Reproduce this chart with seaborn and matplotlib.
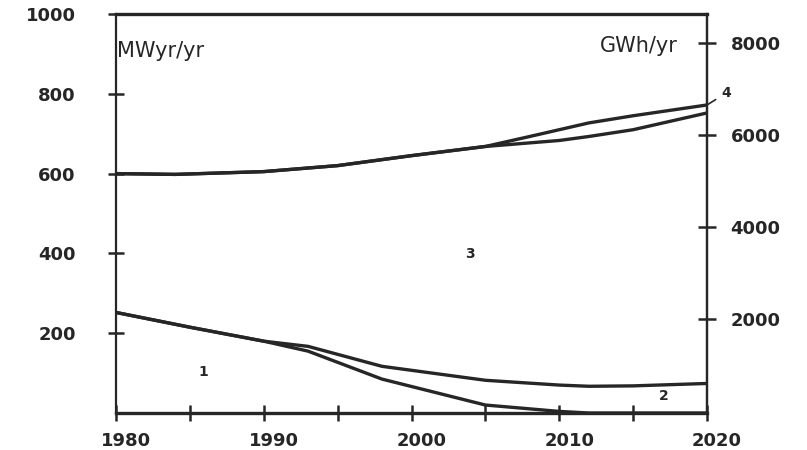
import matplotlib
matplotlib.use("Agg")
import matplotlib.pyplot as plt
from matplotlib.transforms import ScaledTranslation
import seaborn as sns

# ---- data ----
years_low = [1980, 1985, 1990, 1993, 1998, 2005, 2010, 2012, 2015, 2020]
top_of_1 = [252, 215, 180, 155, 85, 20, 4, 0, 0, 0]
top_of_2 = [252, 215, 180, 167, 117, 82, 70, 67, 68, 74]

years_high = [1980, 1984, 1990, 1995, 2000, 2005, 2008, 2010, 2012, 2015, 2020]
top_of_3 = [600, 598, 605, 620, 645, 668, 677, 683, 693, 710, 752]
top_of_4 = [600, 598, 605, 620, 645, 668, 693, 710, 727, 745, 772]

x_major = [1980, 1990, 2000, 2010, 2020]
x_minor = [1985, 1995, 2005, 2015]
y_left = [200, 400, 600, 800, 1000]
y_right = [2000, 4000, 6000, 8000]

sns.set_style("white")
plt.rcParams['font.family'] = ['DejaVu Sans']

ink = '#262626'
fig = plt.figure(figsize=(8.07, 4.5), dpi=100)
ax = fig.add_axes([116 / 807, 37 / 450, 591 / 807, 399 / 450])

for xs, ys in [(years_low, top_of_1), (years_low, top_of_2),
               (years_high, top_of_3), (years_high, top_of_4)]:
    sns.lineplot(x=xs, y=ys, ax=ax, color=ink, linewidth=2.4)

ax.set_xlim(1980, 2020)
ax.set_ylim(0, 1000)
ax.set_xlabel('')
ax.set_ylabel('')

ax.set_xticks(x_major)
ax.set_xticklabels([str(v) for v in x_major])
ax.set_xticks(x_minor, minor=True)
ax.set_yticks(y_left)
ax.set_yticklabels([str(v) for v in y_left])

ax.tick_params(axis='y', left=True, direction='inout', length=12, width=1.8, pad=23,
               colors=ink, labelsize=13)
ax.tick_params(axis='x', which='both', bottom=True, direction='inout', length=11,
               width=1.8, pad=8, colors=ink, labelsize=13)
for lbl in ax.get_yticklabels() + ax.get_xticklabels():
    lbl.set_fontweight('bold')
for lbl in ax.get_xticklabels():
    lbl.set_transform(lbl.get_transform() + ScaledTranslation(0.10, 0, fig.dpi_scale_trans))

for side, lw in [('top', 2.4), ('bottom', 2.4), ('left', 1.6), ('right', 1.6)]:
    ax.spines[side].set_visible(True)
    ax.spines[side].set_color(ink)
    ax.spines[side].set_linewidth(lw)

ax2 = ax.twinx()
ax2.set_ylim(-60, 8640)
ax2.set_yticks(y_right)
ax2.set_yticklabels([str(v) for v in y_right])
ax2.tick_params(axis='y', right=True, direction='inout', length=13, width=1.8, pad=10.5,
                colors=ink, labelsize=13)
for lbl in ax2.get_yticklabels():
    lbl.set_fontweight('bold')
for side in ['top', 'bottom', 'left']:
    ax2.spines[side].set_visible(False)
ax2.spines['right'].set_color(ink)
ax2.spines['right'].set_linewidth(1.6)

ax.text(1980.1, 907, 'MWyr/yr', ha='left', va='center', fontsize=15, color=ink)
ax.text(2018.0, 920, 'GWh/yr', ha='right', va='center', fontsize=15, color=ink)

num_font = dict(ha='center', va='center', fontsize=10, fontweight='bold', color=ink)
ax.text(1985.9, 103, '1', **num_font)
ax.text(2017.1, 43, '2', **num_font)
ax.text(2003.95, 398, '3', **num_font)
ax.annotate('4', xy=(2020, 772), xytext=(2021.3, 802), annotation_clip=False,
            arrowprops=dict(arrowstyle='-', color=ink, lw=1.2,
                            shrinkA=2, shrinkB=0), **num_font)

fig.savefig('out.png', dpi=100, facecolor='white')
